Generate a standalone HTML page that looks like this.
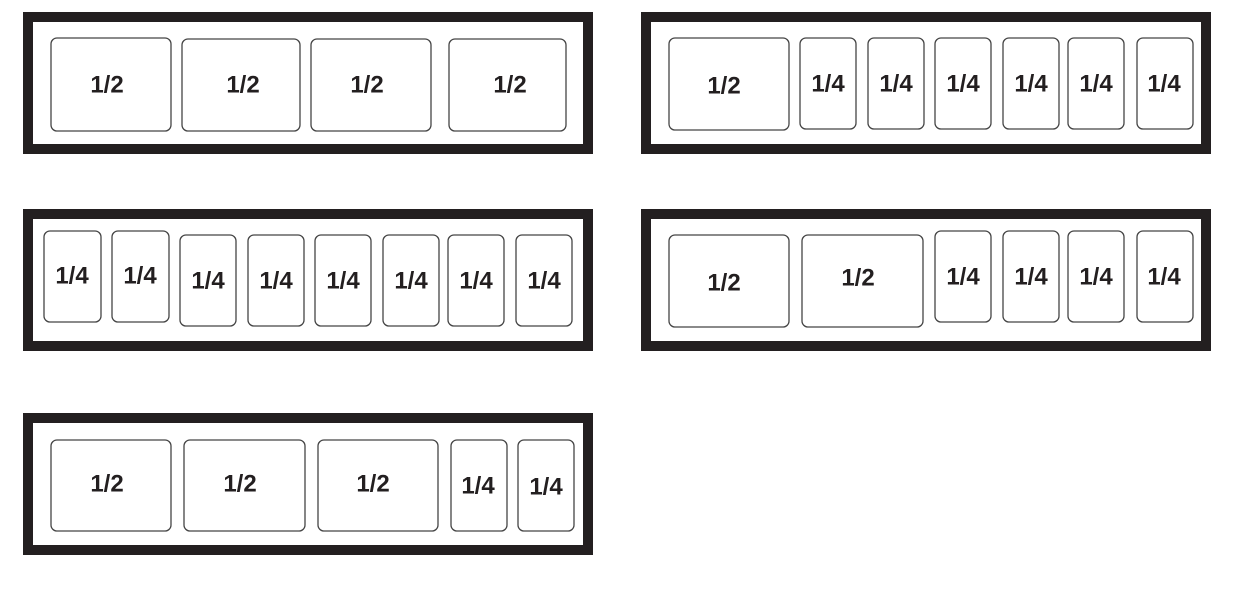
<!DOCTYPE html>
<html><head><style>body{margin:0;background:#fff}svg{display:block}</style></head>
<body>
<svg width="1242" height="606" xmlns="http://www.w3.org/2000/svg" font-family="Liberation Sans, sans-serif" font-weight="bold" font-size="24" fill="#231f20">
<g fill="none" stroke="#231f20" stroke-width="10">
<rect x="28" y="17" width="560" height="132"/>
<rect x="646" y="17" width="560" height="132"/>
<rect x="28" y="214" width="560" height="132"/>
<rect x="646" y="214" width="560" height="132"/>
<rect x="28" y="418" width="560" height="132"/>
</g>
<g fill="#fff" stroke="#444" stroke-width="1.3">
<rect x="51" y="38" width="120" height="93" rx="6"/>
<rect x="182" y="39" width="118" height="92" rx="6"/>
<rect x="311" y="39" width="120" height="92" rx="6"/>
<rect x="449" y="39" width="117" height="92" rx="6"/>
<rect x="669" y="38" width="120" height="92" rx="6"/>
<rect x="800" y="38" width="56" height="91" rx="6"/>
<rect x="868" y="38" width="56" height="91" rx="6"/>
<rect x="935" y="38" width="56" height="91" rx="6"/>
<rect x="1003" y="38" width="56" height="91" rx="6"/>
<rect x="1068" y="38" width="56" height="91" rx="6"/>
<rect x="1137" y="38" width="56" height="91" rx="6"/>
<rect x="44" y="231" width="57" height="91" rx="6"/>
<rect x="112" y="231" width="57" height="91" rx="6"/>
<rect x="180" y="235" width="56" height="91" rx="6"/>
<rect x="248" y="235" width="56" height="91" rx="6"/>
<rect x="315" y="235" width="56" height="91" rx="6"/>
<rect x="383" y="235" width="56" height="91" rx="6"/>
<rect x="448" y="235" width="56" height="91" rx="6"/>
<rect x="516" y="235" width="56" height="91" rx="6"/>
<rect x="669" y="235" width="120" height="92" rx="6"/>
<rect x="802" y="235" width="121" height="92" rx="6"/>
<rect x="935" y="231" width="56" height="91" rx="6"/>
<rect x="1003" y="231" width="56" height="91" rx="6"/>
<rect x="1068" y="231" width="56" height="91" rx="6"/>
<rect x="1137" y="231" width="56" height="91" rx="6"/>
<rect x="51" y="440" width="120" height="91" rx="6"/>
<rect x="184" y="440" width="121" height="91" rx="6"/>
<rect x="318" y="440" width="120" height="91" rx="6"/>
<rect x="451" y="440" width="56" height="91" rx="6"/>
<rect x="518" y="440" width="56" height="91" rx="6"/>
</g>
<g text-anchor="middle" dominant-baseline="central">
<text x="107" y="85">1/2</text><text x="243" y="85">1/2</text><text x="367" y="85">1/2</text><text x="510" y="85">1/2</text>
<text x="724" y="86">1/2</text><text x="828" y="84">1/4</text><text x="896" y="84">1/4</text><text x="963" y="84">1/4</text><text x="1031" y="84">1/4</text><text x="1096" y="84">1/4</text><text x="1164" y="84">1/4</text>
<text x="72" y="276">1/4</text><text x="140" y="276">1/4</text><text x="208" y="281">1/4</text><text x="276" y="281">1/4</text><text x="343" y="281">1/4</text><text x="411" y="281">1/4</text><text x="476" y="281">1/4</text><text x="544" y="281">1/4</text>
<text x="724" y="283">1/2</text><text x="858" y="278">1/2</text><text x="963" y="277">1/4</text><text x="1031" y="277">1/4</text><text x="1096" y="277">1/4</text><text x="1164" y="277">1/4</text>
<text x="107" y="484">1/2</text><text x="240" y="484">1/2</text><text x="373" y="484">1/2</text><text x="478" y="486">1/4</text><text x="546" y="487">1/4</text>
</g>
</svg>
</body></html>
